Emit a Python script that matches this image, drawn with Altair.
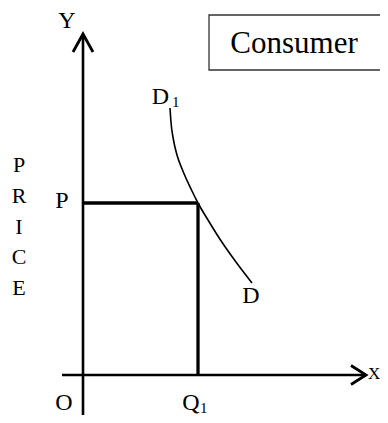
import altair as alt
import pandas as pd

# ---- values (economic coordinates, origin O where the axes cross) ----
quantity_q1 = 115          # Q1 on the quantity axis
price_p = 172              # P on the price axis
x_axis_range = [-21, 283]  # drawn extent of the X axis
y_axis_range = [-48, 341]  # drawn extent of the Y axis

demand_q = [87, 87.8, 90.5, 94, 99.5, 108.5, 115, 125, 137.5, 151.5, 169]
demand_p = [267, 255, 235, 220, 205, 185, 172, 155, 135, 115, 92]

price_letters = ["P", "R", "I", "C", "E"]
box_title = "Consumer"
box_x = [126, 330]
box_y = [305, 360]

SERIF = "Liberation Serif"
xs = alt.Scale(domain=[-75, 297], nice=False, zero=False)
ys = alt.Scale(domain=[-40, 367], nice=False, zero=False)


def X(field="x"):
    return alt.X(f"{field}:Q", scale=xs, axis=None)


def Y(field="y"):
    return alt.Y(f"{field}:Q", scale=ys, axis=None)


# axes lines
axes_df = pd.DataFrame({
    "x": [0, x_axis_range[0]],
    "x2": [0, x_axis_range[1]],
    "y": [y_axis_range[0], 0],
    "y2": [y_axis_range[1], 0],
})
axes = alt.Chart(axes_df).mark_rule(color="black", strokeWidth=2.6).encode(
    x=X(), x2="x2:Q", y=Y(), y2="y2:Q")

# arrow heads
arrow_df = pd.DataFrame({
    "arrow": ["y"] * 3 + ["x"] * 3,
    "i": [0, 1, 2, 0, 1, 2],
    "x": [-10, 0, 10, x_axis_range[1] - 15, x_axis_range[1], x_axis_range[1] - 15],
    "y": [y_axis_range[1] - 18, y_axis_range[1], y_axis_range[1] - 18, 9.5, 0, -9.5],
})
arrows = alt.Chart(arrow_df).mark_line(color="black", strokeWidth=2.8,
                                       strokeJoin="miter").encode(
    x=X(), y=Y(), detail="arrow:N", order="i:Q")

# P and Q1 guide lines
guides_df = pd.DataFrame({
    "x": [0, quantity_q1],
    "x2": [quantity_q1, quantity_q1],
    "y": [price_p, 0],
    "y2": [price_p, price_p],
})
guides = alt.Chart(guides_df).mark_rule(color="black", strokeWidth=3.3).encode(
    x=X(), x2="x2:Q", y=Y(), y2="y2:Q")

# demand curve
demand_df = pd.DataFrame({"q": demand_q, "p": demand_p, "i": range(len(demand_q))})
demand = alt.Chart(demand_df).mark_line(color="black", strokeWidth=1.6,
                                        interpolate="monotone").encode(
    x=X("q"), y=Y("p"), order="i:Q")

# Consumer box
box_df = pd.DataFrame({"x": [box_x[0]], "x2": [box_x[1]], "y": [box_y[0]], "y2": [box_y[1]]})
box = alt.Chart(box_df).mark_rect(fill="white", stroke="#333333", strokeWidth=1.3).encode(
    x=X(), x2="x2:Q", y=Y(), y2="y2:Q")


def label(text, x, y, dx, dy, size, align="center"):
    df = pd.DataFrame({"t": [text], "x": [x], "y": [y]})
    return alt.Chart(df).mark_text(
        dx=dx, dy=dy, fontSize=size, align=align, baseline="alphabetic",
        font=SERIF, color="black").encode(x=X(), y=Y(), text="t:N")


labels = [
    label(box_title, (box_x[0] + box_x[1]) / 2, box_y[1], -17, 38, 31),
    label("Y", 0, y_axis_range[1], -16, -6, 24),
    label("X", x_axis_range[1], 0, 2, 4, 17, "left"),
    label("O", 0, 0, -19, 35, 24),
    label("P", 0, price_p, -21, 5, 24),
    label("Q", quantity_q1, 0, -7, 35, 24),
    label("1", quantity_q1, 0, 2, 38, 15, "left"),
    label("D", demand_q[-1], demand_p[-1], -1, 20, 24),
    label("D", demand_q[0], demand_p[0], -9.5, -4, 24),
    label("1", demand_q[0], demand_p[0], 2, -1, 15, "left"),
]

price_df = pd.DataFrame({
    "t": price_letters,
    "x": [0] * len(price_letters),
    "y": [price_p + 31 - 30.75 * i for i in range(len(price_letters))],
})
price_word = alt.Chart(price_df).mark_text(
    dx=-64, fontSize=22, align="center", baseline="alphabetic",
    font=SERIF, color="black").encode(x=X(), y=Y(), text="t:N")

chart = alt.layer(axes, arrows, guides, demand, box, price_word, *labels).properties(
    width=372, height=407, autosize=alt.AutoSizeParams(type="none"), padding=0,
).configure_view(stroke=None)

chart.save("out.html", embed_options={"renderer": "svg", "actions": False})
